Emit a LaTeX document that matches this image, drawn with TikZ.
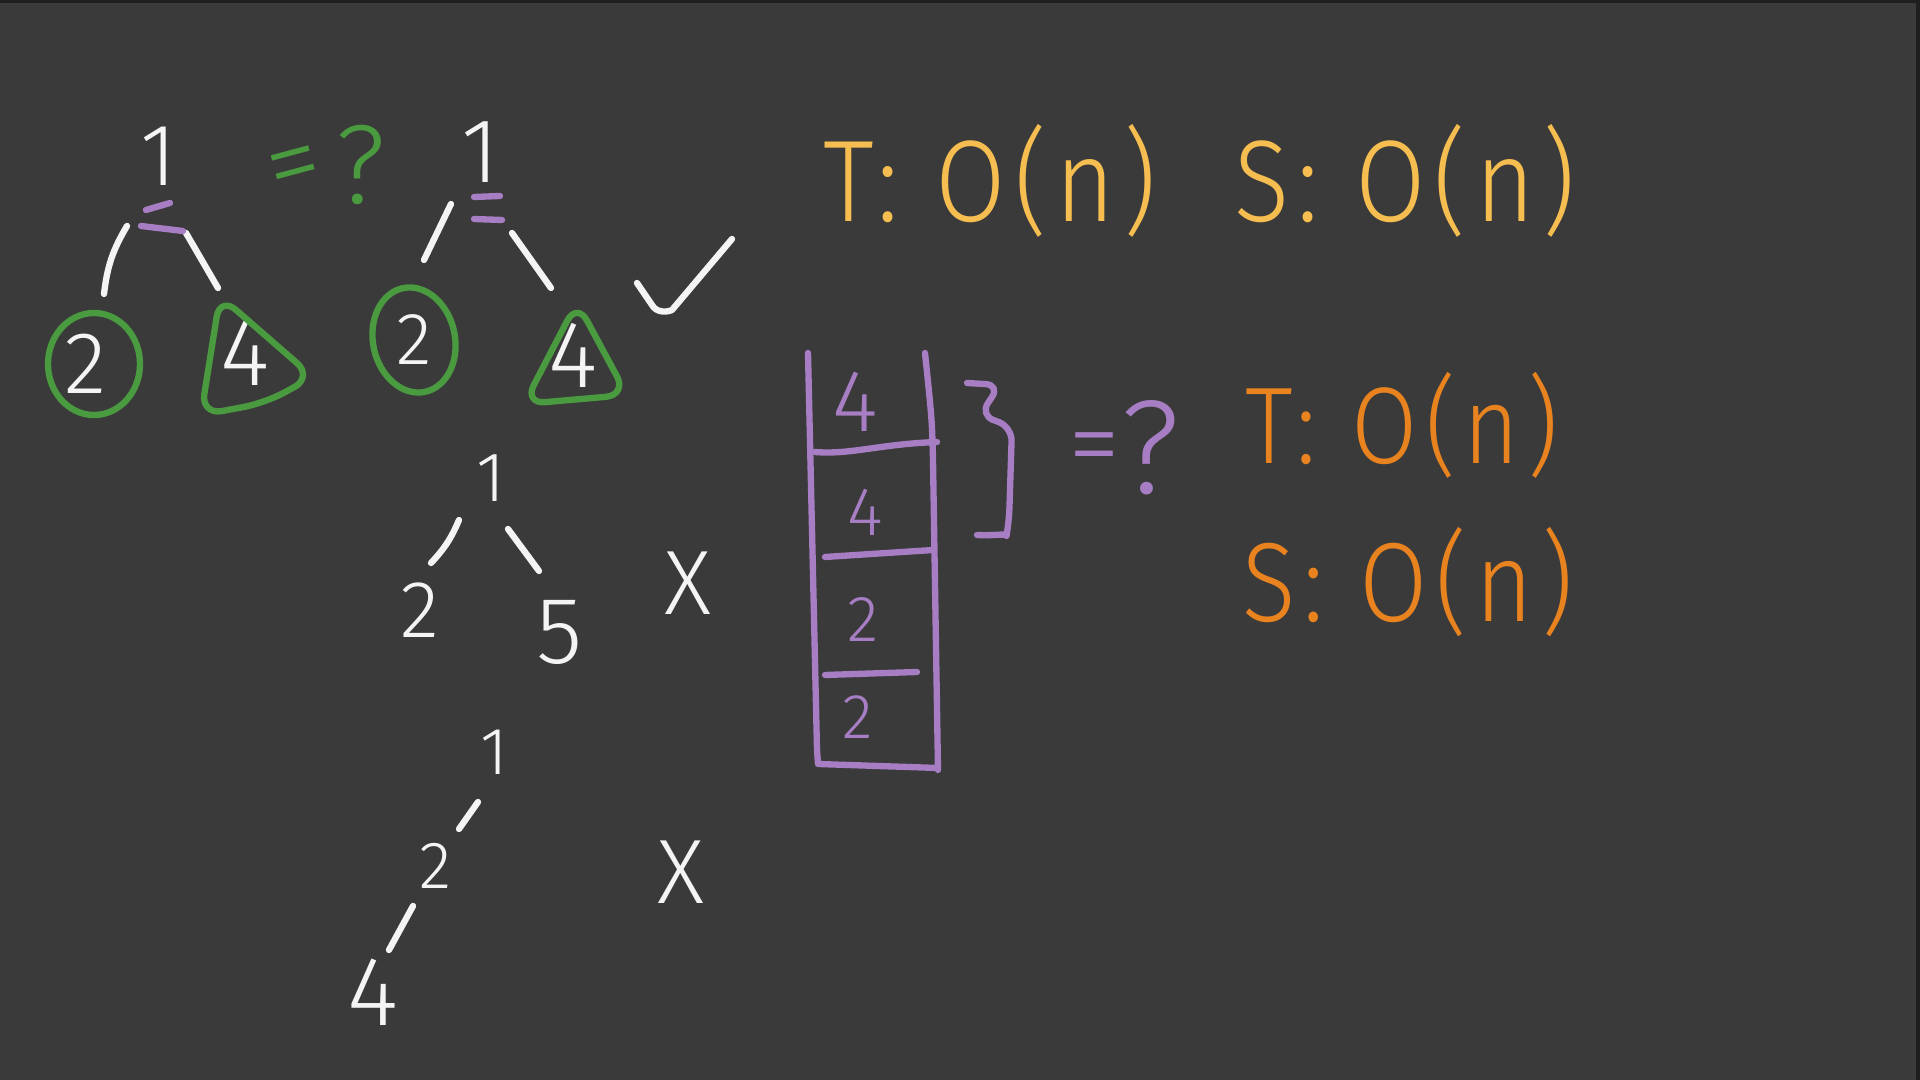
\documentclass[tikz,border=0pt]{standalone}
\usepackage{fontspec}
\setmainfont{Fira Sans}[UprightFont=* Light]
\usetikzlibrary{calc}
\definecolor{bg}{HTML}{3A3A3A}
\definecolor{edge}{HTML}{1E1E1E}
\definecolor{chalk}{HTML}{F4F4F4}
\definecolor{grn}{HTML}{4A9A40}
\definecolor{purp}{HTML}{A77DC3}
\definecolor{amber}{HTML}{F6BE50}
\definecolor{orng}{HTML}{E8831F}
\begin{document}
\begin{tikzpicture}[x=0.01cm,y=-0.01cm,
  hand/.style={line width=1.8pt, line cap=round, line join=round},
  fs/.style={font=\fontsize{#1}{#1}\selectfont},
  dig/.style={inner sep=0pt, text=chalk, fs=#1},
  ptxt/.style={inner sep=0pt, text=purp, fs=#1},
  gtxt/.style={inner sep=0pt, text=grn, fs=#1},
  cplx/.style={inner sep=0pt, xscale=0.88, font=\fontsize{#1}{#1}\selectfont\addfontfeature{LetterSpace=8}}]
\fill[bg] (0,0) rectangle (1920,1080);
\useasboundingbox (0,0) rectangle (1920,1080);
\fill[edge] (0,0) rectangle (1920,3);
\fill[edge] (1916,0) rectangle (1920,1080);

% ---------- tree A ----------
\node[dig=25] (a1) at (159,156) {1};
\node[dig=25] (a2) at (86,364) {2};
\node[dig=27] (a3) at (245,353) {4};
\draw[hand,chalk] ($(a1)+(-32,70)$) to[bend right=12] ($(a2)+(18,-70)$);
\draw[hand,chalk] ($(a1)+(27,77)$) -- ($(a3)+(-27,-65)$);
\draw[hand,purp] ($(a1)+(-13,54)$) -- ($(a1)+(11,47)$);
\draw[hand,purp] ($(a1)+(-18,70)$) -- ($(a1)+(24,75)$);
\draw[hand,grn] ($(a2)+(8,0)$) ellipse [x radius=46, y radius=51];
\draw[hand,grn,rounded corners=6] ($(a3)+(-25,-57)$) -- ($(a3)+(-44,62)$)
  -- ($(a3)+(20,50)$) -- ($(a3)+(68,24)$) -- cycle;

% green =?
\node[gtxt=31, rotate=15] (eqA) at (296,174) {=};
\node[gtxt=32] (qA) at (361,165) {?};

% ---------- tree B ----------
\node[dig=26] (b1) at (480,152) {1};
\node[dig=21] (b2) at (414,340) {2};
\node[dig=27] (b3) at (573,355) {4};
\draw[hand,chalk] ($(b1)+(-29,52)$) -- ($(b2)+(10,-80)$);
\draw[hand,chalk] ($(b1)+(32,81)$) -- ($(b3)+(-22,-67)$);
\draw[hand,purp] ($(b1)+(-6,45)$) -- ($(b1)+(20,44)$);
\draw[hand,purp] ($(b1)+(-6,67)$) -- ($(b1)+(22,68)$);
\draw[hand,grn,rotate around={12:(b2)}] (b2) ellipse [x radius=41, y radius=53];
\draw[hand,grn,rounded corners=6] ($(b3)+(4,-53)$) -- ($(b3)+(-49,49)$)
  -- ($(b3)+(54,40)$) -- cycle;

% check mark
\draw[hand,chalk] (637,283) -- (652,305) .. controls (656,312) and (665,313) .. (672,310) -- (732,239);

% ---------- tree C ----------
\node[dig=20] (c1) at (491,478) {1};
\node[dig=23] (c2) at (420,610) {2};
\node[dig=27] (c3) at (560,632) {5};
\draw[hand,chalk] ($(c1)+(-32,42)$) to[bend left=10] ($(c2)+(11,-47)$);
\draw[hand,chalk] ($(c1)+(17,51)$) -- ($(c3)+(-21,-61)$);
\node[dig=26] (x1) at (688,583) {X};

% ---------- tree D ----------
\node[dig=19] (d1) at (494,752) {1};
\node[dig=19] (d2) at (435,866) {2};
\node[dig=28] (d3) at (373,992) {4};
\draw[hand,chalk] ($(d1)+(-16,50)$) -- ($(d2)+(24,-37)$);
\draw[hand,chalk] ($(d2)+(-22,40)$) -- ($(d3)+(16,-42)$);
\node[dig=26] (x2) at (681,872) {X};

% ---------- stack ----------
\draw[hand,purp] (808,353) -- (817,750) -- (818,764) -- (938,768);
\draw[hand,purp] (925,353) .. controls (932,420) .. (933,460) -- (938,770);
\draw[hand,purp] (815,452) .. controls (850,455) and (880,444) .. (937,442);
\draw[hand,purp] (825,557) -- (933,550);
\draw[hand,purp] (825,675) -- (917,672);
\node[ptxt=25] (s1) at (855,402) {4};
\node[ptxt=19.5] (s2) at (865,512) {4};
\node[ptxt=18.5] (s3) at (863,620) {2};
\node[ptxt=18] (s4) at (858,717) {2};
\draw[hand,purp,rounded corners=4] (967,383) -- (1000,385) -- (980,415) -- (1012,427)
  -- (1009,522) .. controls (1007,533) and (995,536) .. (977,535);
\node[ptxt=30] (eqB) at (1094,456) {=};
\node[ptxt=38] (qB) at (1150,448) {?};

% ---------- complexities ----------
\node[cplx=33, text=amber] (t1) at (990,181) {T: O(n)};
\node[cplx=33, text=amber] (s1c) at (1405,181) {S: O(n)};
\node[cplx=31, text=orng] (t2) at (1402,425) {T: O(n)};
\node[cplx=32, text=orng] (s2c) at (1408,582) {S: O(n)};
\end{tikzpicture}
\end{document}
